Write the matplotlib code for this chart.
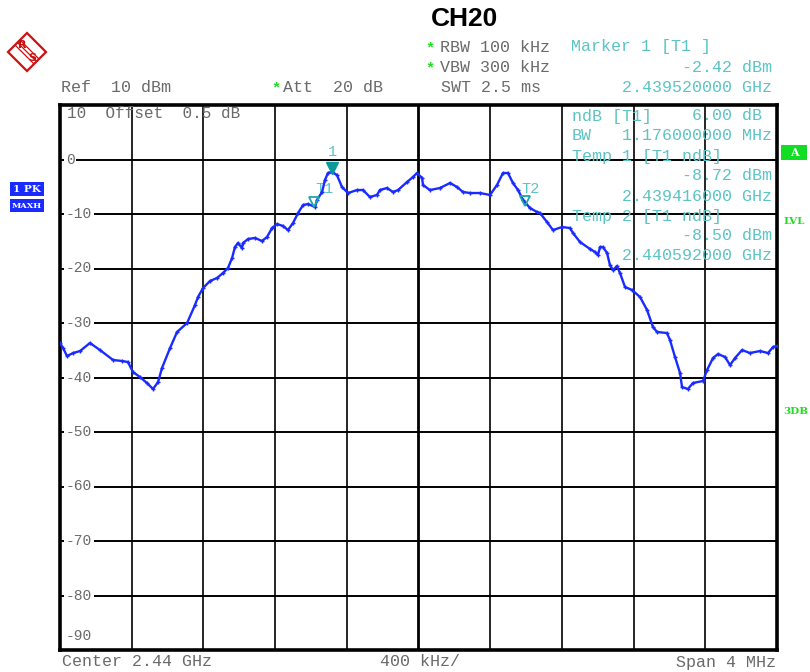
import matplotlib
matplotlib.use("Agg")
import matplotlib.pyplot as plt
from matplotlib.patches import Polygon, Rectangle
import matplotlib.transforms as mtransforms

# trace: offset from center (MHz) and level (dBm)
off_mhz = [-2.000, -1.983, -1.961, -1.927, -1.888, -1.833, -1.777, -1.704, -1.654, -1.621,
           -1.593, -1.554, -1.515, -1.481, -1.453, -1.431, -1.386, -1.347, -1.291, -1.247,
           -1.230, -1.202, -1.163, -1.124, -1.091, -1.063, -1.040, -1.024, -1.007, -0.985,
           -0.979, -0.951, -0.912, -0.873, -0.845, -0.817, -0.789, -0.756, -0.728, -0.700,
           -0.672, -0.644, -0.616, -0.577, -0.566, -0.538, -0.522, -0.505, -0.483, -0.455,
           -0.427, -0.393, -0.343, -0.310, -0.271, -0.232, -0.215, -0.176, -0.142, -0.114,
           -0.064, -0.031, -0.008, 0.020, 0.025, 0.064, 0.120, 0.176, 0.215, 0.248,
           0.287, 0.343, 0.399, 0.438, 0.471, 0.499, 0.527, 0.555, 0.583, 0.622,
           0.661, 0.678, 0.717, 0.750, 0.801, 0.845, 0.862, 0.901, 0.957, 0.985,
           1.001, 1.013, 1.029, 1.052, 1.068, 1.085, 1.107, 1.124, 1.152, 1.191,
           1.236, 1.275, 1.308, 1.331, 1.386, 1.403, 1.431, 1.459, 1.470, 1.503,
           1.531, 1.587, 1.610, 1.643, 1.671, 1.710, 1.738, 1.766, 1.805, 1.849,
           1.905, 1.950, 1.978, 2.000]
level_dbm = [-33.67, -34.59, -36.06, -35.51, -35.14, -33.67, -34.96, -36.79, -36.97, -37.16,
             -38.99, -39.91, -41.01, -42.11, -40.83, -38.26, -34.59, -31.65, -30.00, -26.70,
             -25.23, -23.58, -22.29, -21.74, -20.83, -19.91, -18.08, -16.06, -15.32, -16.24,
             -15.32, -14.59, -14.40, -14.95, -14.22, -12.57, -11.84, -12.20, -12.94, -11.65,
             -9.82, -8.35, -8.17, -8.72, -7.43, -5.96, -3.76, -2.48, -2.29, -2.84,
             -5.05, -6.15, -5.60, -5.60, -6.88, -6.51, -5.60, -5.23, -5.96, -5.60,
             -4.13, -3.21, -2.48, -3.39, -4.68, -5.60, -5.23, -4.31, -5.05, -5.96,
             -6.15, -6.15, -6.51, -4.68, -2.48, -2.48, -4.31, -5.60, -7.43, -8.90,
             -9.63, -9.82, -11.47, -12.94, -12.39, -12.57, -13.49, -15.14, -16.42, -16.97,
             -17.52, -16.06, -16.06, -17.16, -19.36, -20.28, -19.54, -20.83, -23.39, -23.94,
             -25.23, -27.61, -30.73, -31.65, -31.84, -33.12, -36.24, -39.17, -41.74, -42.11,
             -41.01, -40.64, -38.62, -36.42, -35.69, -36.24, -37.71, -36.42, -34.96, -35.51,
             -35.14, -35.51, -34.40, -34.22]

center_ghz = 2.44
span_ghz = 0.004
ref_dbm = 10
y_ticks = [10, 0, -10, -20, -30, -40, -50, -60, -70, -80, -90]

m1 = (2.439520, -2.42)
t1 = (2.439416, -8.72)
t2 = (2.440592, -8.50)

freq = [center_ghz + o / 1000 for o in off_mhz]

W, H = 810, 672
fig = plt.figure(figsize=(W / 100, H / 100), dpi=100)
ax = fig.add_axes([60 / W, 22 / H, 717 / W, 545 / H])

mono = "Liberation Mono"
gray = "#6a6a6a"
teal = "#5cc4c4"
green = "#22dd22"

def ftxt(x, y, s, **kw):
    kw.setdefault("family", mono)
    kw.setdefault("fontsize", 12)
    kw.setdefault("color", gray)
    kw.setdefault("va", "center")
    fig.text(x / W, 1 - y / H, s, **kw)

ax.set_xlim(center_ghz - span_ghz / 2, center_ghz + span_ghz / 2)
ax.set_ylim(-90, ref_dbm)
for k in range(1, 10):
    xv = center_ghz - span_ghz / 2 + k * span_ghz / 10
    ax.axvline(xv, color="black", lw=2.0 if k == 5 else 1.2, zorder=1)
for v in y_ticks[1:-1]:
    ax.axhline(v, color="black", lw=1.4, zorder=1)
ax.set_xticks([])
ax.set_yticks([])
for s in ax.spines.values():
    s.set_linewidth(2.6)

trans = mtransforms.blended_transform_factory(ax.transAxes, ax.transData)
for v in y_ticks[1:-1]:
    ax.text(6 / 717, v, str(v), transform=trans, family=mono, fontsize=10.5,
            color=gray, va="center", ha="left", zorder=3,
            bbox=dict(facecolor="white", edgecolor="none", pad=1.2))
ax.text(7 / 717, 8.5, "10  Offset  0.5 dB", transform=trans, family=mono, fontsize=11.5,
        color=gray, va="center", ha="left", zorder=3)
ax.text(6 / 717, -87.4, "-90", transform=trans, family=mono, fontsize=10.5,
        color=gray, va="center", ha="left", zorder=3)

ax.plot(freq, level_dbm, color="#1a2bff", lw=1.7, marker="+", ms=3.5, mew=1.0, zorder=4)

# markers
ax.plot(m1[0], m1[1] + 0.9, marker="v", ms=8, color="#0b9a9a", zorder=5)
ax.text(m1[0], m1[1] + 3.8, "1", family=mono, fontsize=11, color=teal, ha="center", va="center")
ax.plot(t1[0], t1[1] + 0.9, marker="v", ms=7, mfc="none", mec="#1aa8a8", mew=1.3, zorder=5)
ax.text(t1[0] + 0.00001, t1[1] + 3.3, "T1", family=mono, fontsize=11, color=teal, ha="left", va="center")
ax.plot(t2[0], t2[1] + 0.9, marker="v", ms=7, mfc="none", mec="#1aa8a8", mew=1.3, zorder=5)
ax.text(t2[0] - 0.00002, t2[1] + 3.0, "T2", family=mono, fontsize=11, color=teal, ha="left", va="center")

# marker readout inside the grid
ftxt(572, 116, "ndB [T1]", color=teal)
ftxt(762, 116, "6.00 dB", color=teal, ha="right")
ftxt(572, 136, "BW", color=teal)
ftxt(772, 136, "1.176000000 MHz", color=teal, ha="right")
ftxt(572, 156, "Temp 1 [T1 ndB]", color=teal)
ftxt(772, 176, "%.2f dBm" % t1[1], color=teal, ha="right")
ftxt(772, 196, "%.9f GHz" % t1[0], color=teal, ha="right")
ftxt(572, 216, "Temp 2 [T1 ndB]", color=teal)
ftxt(772, 236, "%.2f dBm" % t2[1], color=teal, ha="right")
ftxt(772, 256, "%.9f GHz" % t2[0], color=teal, ha="right")

# header
fig.text(465 / W, 1 - 19 / H, "CH20", family="Liberation Sans", fontweight="bold",
         fontsize=19, ha="center", va="center", color="black")
ftxt(430, 48, "*", color=green, fontsize=11, fontweight="bold", ha="center")
ftxt(440, 47, "RBW 100 kHz")
ftxt(571, 47, "Marker 1 [T1 ]", color=teal)
ftxt(430, 68, "*", color=green, fontsize=11, fontweight="bold", ha="center")
ftxt(440, 67, "VBW 300 kHz")
ftxt(772, 67, "%.2f dBm" % m1[1], color=teal, ha="right")
ftxt(61, 87, "Ref  10 dBm")
ftxt(276, 88, "*", color=green, fontsize=11, fontweight="bold", ha="center")
ftxt(283, 87, "Att  20 dB")
ftxt(441, 87, "SWT 2.5 ms")
ftxt(772, 87, "%.9f GHz" % m1[0], color=teal, ha="right")

# footer
ftxt(62, 662, "Center 2.44 GHz")
ftxt(380, 662, "400 kHz/")
ftxt(776, 662, "Span 4 MHz", ha="right")

# side annotations
def box(x0, y0, w, h, fc, s, tc, fs=8):
    fig.patches.append(Rectangle((x0 / W, 1 - (y0 + h) / H), w / W, h / H,
                                 transform=fig.transFigure, facecolor=fc, edgecolor="none"))
    fig.text((x0 + w / 2) / W, 1 - (y0 + h / 2) / H, s, family="DejaVu Serif",
             fontweight="bold", fontsize=fs, color=tc, ha="center", va="center")

box(10, 182, 34, 14, "#1a2bff", "1 PK", "white", 7.5)
box(10, 199, 34, 13, "#1a2bff", "MAXH", "white", 6)
box(781, 145, 26, 15, "#11dd22", "A", "white", 8)
fig.text(783 / W, 1 - 222 / H, "LVL", family="DejaVu Serif", fontweight="bold",
         fontsize=7.5, color=green, va="center")
fig.text(783 / W, 1 - 411 / H, "3DB", family="DejaVu Serif", fontweight="bold",
         fontsize=7.5, color=green, va="center")

# R&S logo
red = "#cc1111"
cx, cy = 27, 52
dia = [(cx, cy - 19), (cx + 19, cy), (cx, cy + 19), (cx - 19, cy)]
fig.patches.append(Polygon([(px / W, 1 - py / H) for px, py in dia], closed=True,
                           transform=fig.transFigure, fill=False, edgecolor=red, lw=1.6))
for d in (-2.5, 0, 2.5):
    fig.lines.append(plt.Line2D([(cx - 9 + d) / W, (cx + 9 + d) / W],
                                [1 - (cy - 9 - d) / H, 1 - (cy + 9 - d) / H],
                                transform=fig.transFigure, color=red, lw=0.9))
fig.text((cx - 5) / W, 1 - (cy - 7) / H, "R", fontsize=8, fontweight="bold", color=red,
         ha="center", va="center")
fig.text((cx + 5) / W, 1 - (cy + 6) / H, "S", fontsize=8, fontweight="bold", color=red,
         ha="center", va="center")

fig.savefig("out.png", dpi=100)
